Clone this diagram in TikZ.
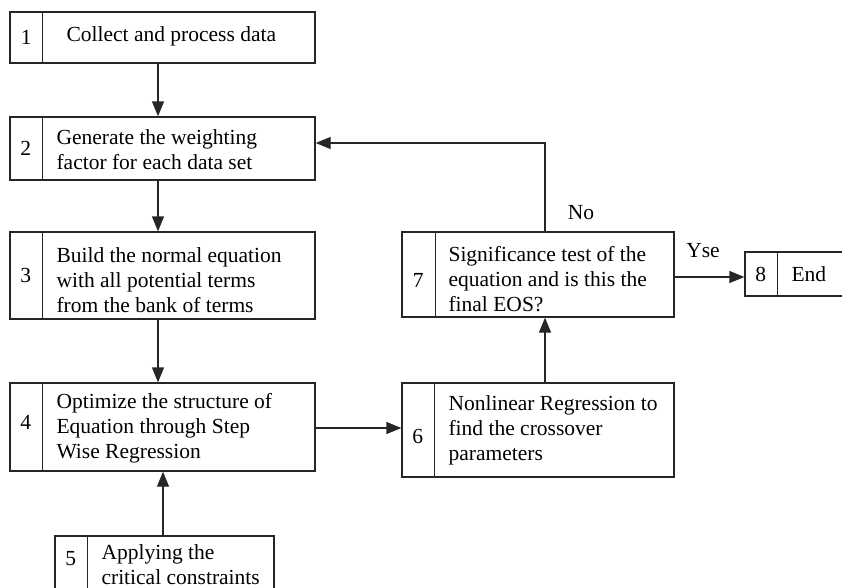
\documentclass[tikz,border=0pt]{standalone}
\usepackage{fontspec}
\setmainfont{Liberation Serif}
\usetikzlibrary{arrows.meta,calc}
\tikzset{
  box/.style={draw=black!85, line width=1.3pt, rectangle, inner sep=0pt},
  numtxt/.style={font=\fontsize{21.5}{25.5}\selectfont, inner sep=0pt},
  bodytxt/.style={font=\fontsize{21.5}{25}\selectfont, align=left, anchor=west, inner sep=0pt},
  lbl/.style={font=\fontsize{21.5}{25.5}\selectfont, inner sep=0pt},
  arr/.style={draw=black!85, line width=1.3pt, -{Triangle[length=15pt,width=12pt]}},
  divline/.style={draw=black!85, line width=1.3pt}
}
\begin{document}
\begin{tikzpicture}[x=1pt,y=-1pt]
\useasboundingbox (0,0) rectangle (842,587);
\clip (0,0) rectangle (842,587);
% boxes
\node[box, minimum width=305pt, minimum height=51pt] (b1) at (162.5,37.5) {};
\node[box, minimum width=305pt, minimum height=63pt] (b2) at (162.5,148.5) {};
\node[box, minimum width=305pt, minimum height=87pt] (b3) at (162.5,275.5) {};
\node[box, minimum width=305pt, minimum height=88pt] (b4) at (162.5,427) {};
\node[box, minimum width=219pt, minimum height=64pt] (b5) at (164.5,568) {};
\node[box, minimum width=272pt, minimum height=94pt] (b6) at (538,430) {};
\node[box, minimum width=272pt, minimum height=85pt] (b7) at (538,274.5) {};
\node[box, minimum width=115pt, minimum height=44pt] (b8) at (802.5,274) {};
% dividers
\draw[divline] ($(b1.north west)+(33,0)$) -- ($(b1.south west)+(33,0)$);
\draw[divline] ($(b2.north west)+(33,0)$) -- ($(b2.south west)+(33,0)$);
\draw[divline] ($(b3.north west)+(33,0)$) -- ($(b3.south west)+(33,0)$);
\draw[divline] ($(b4.north west)+(33,0)$) -- ($(b4.south west)+(33,0)$);
\draw[divline] ($(b5.north west)+(33,0)$) -- ($(b5.south west)+(33,0)$);
\draw[divline] ($(b6.north west)+(33,0)$) -- ($(b6.south west)+(33,0)$);
\draw[divline] ($(b7.north west)+(34,0)$) -- ($(b7.south west)+(34,0)$);
\draw[divline] ($(b8.north west)+(33,0)$) -- ($(b8.south west)+(33,0)$);
% numbers
\node[numtxt] (n1) at ($(b1.west)+(17,0)$) {1};
\node[numtxt] (n2) at ($(b2.west)+(16.5,0)$) {2};
\node[numtxt] (n3) at ($(b3.west)+(16.5,0)$) {3};
\node[numtxt] (n4) at ($(b4.west)+(16.5,-5)$) {4};
\node[numtxt] (n5) at ($(b5.west)+(16.5,-9)$) {5};
\node[numtxt] (n6) at ($(b6.west)+(16.5,6)$) {6};
\node[numtxt] (n7) at ($(b7.west)+(17,6)$) {7};
\node[numtxt] (n8) at ($(b8.west)+(16.5,0)$) {8};
% texts
\node[bodytxt] (t1) at ($(b1.west)+(57,-1)$) {Collect and process data};
\node[bodytxt] (t2) at ($(b2.west)+(47,1)$) {Generate the weighting\\factor for each data set};
\node[bodytxt] (t3) at ($(b3.west)+(47,5)$) {Build the normal equation\\with all potential terms\\from the bank of terms};
\node[bodytxt] (t4) at ($(b4.west)+(47,1)$) {Optimize the structure of\\Equation through Step\\Wise Regression};
\node[bodytxt] (t5) at ($(b5.west)+(47,-3)$) {Applying the\\critical constraints};
\node[bodytxt] (t6) at ($(b6.west)+(47,0)$) {Nonlinear Regression to\\find the crossover\\parameters};
\node[bodytxt] (t7) at ($(b7.west)+(47,5)$) {Significance test of the\\equation and is this the\\final EOS?};
\node[bodytxt] (t8) at ($(b8.west)+(47,0)$) {End};
% connectors
\draw[arr] (b1.south -| 158,0) -- (b2.north -| 158,0);
\draw[arr] (b2.south -| 158,0) -- (b3.north -| 158,0);
\draw[arr] (b3.south -| 158,0) -- (b4.north -| 158,0);
\draw[arr] (b5.north -| 163,0) -- (b4.south -| 163,0);
\draw[arr] (b4.east |- 0,428) -- (b6.west |- 0,428);
\draw[arr] (b6.north -| 545,0) -- (b7.south -| 545,0);
\coordinate (c7top) at (b7.north -| 545,0);
\coordinate (cturn) at (545,143);
\draw[arr] (c7top) -- (cturn) -- (b2.east |- cturn);
\draw[arr] (b7.east |- 0,277) -- (b8.west |- 0,277);
% labels
\node[lbl] (no) at (581,213) {No};
\node[lbl] (yse) at (703,251) {Yse};
\end{tikzpicture}
\end{document}
